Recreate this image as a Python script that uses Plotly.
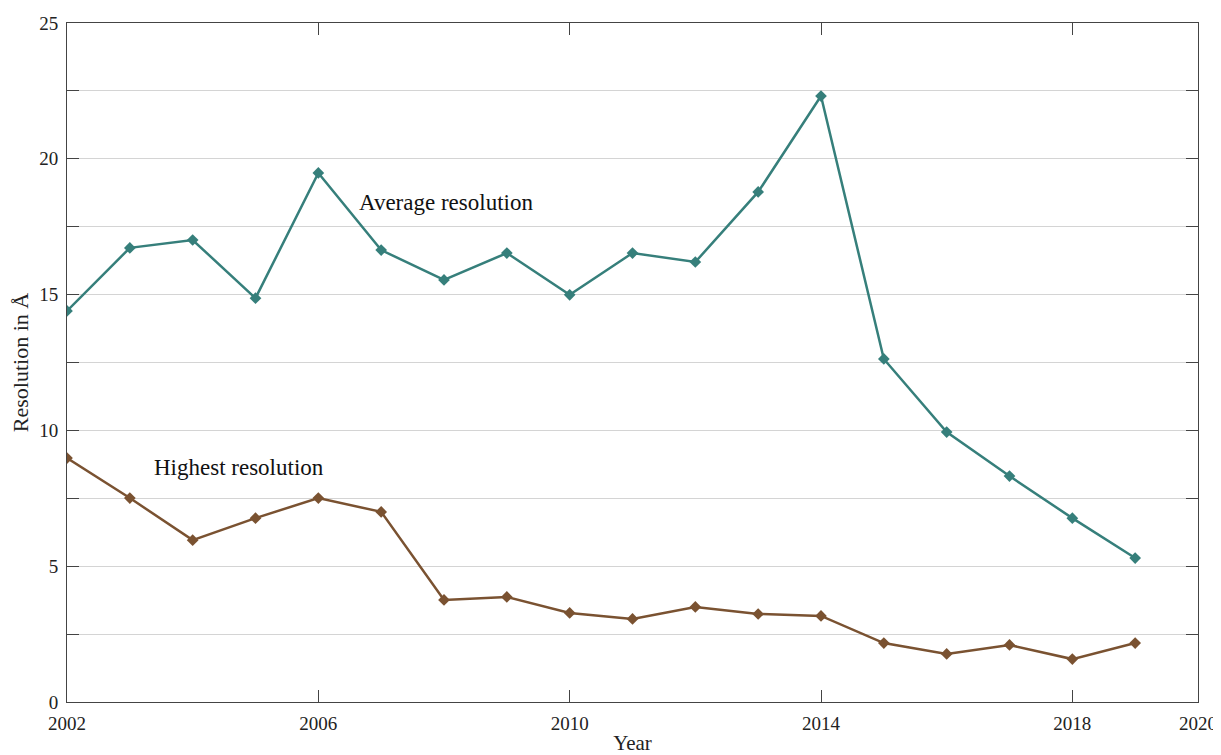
import plotly.graph_objects as go

years = list(range(2002, 2020))
avg_res = [14.4, 16.72, 17.01, 14.87, 19.48, 16.64, 15.54, 16.53, 14.99, 16.53, 16.2, 18.78, 22.31, 12.63, 9.94, 8.32, 6.77, 5.30]
best_res = [8.98, 7.51, 5.96, 6.77, 7.51, 7.0, 3.76, 3.87, 3.28, 3.06, 3.5, 3.24, 3.17, 2.17, 1.77, 2.1, 1.58, 2.17]
x_ticks = [2002, 2006, 2010, 2014, 2018, 2020]
y_ticks = [0, 5, 10, 15, 20, 25]

teal = "#367f7b"
brown = "#7a5231"
font = "Liberation Serif"

fig = go.Figure()
fig.add_trace(go.Scatter(x=years, y=avg_res, mode="lines+markers",
                         line=dict(color=teal, width=2.5),
                         marker=dict(symbol="diamond", size=9, color=teal)))
fig.add_trace(go.Scatter(x=years, y=best_res, mode="lines+markers",
                         line=dict(color=brown, width=2.5),
                         marker=dict(symbol="diamond", size=9, color=brown)))

fig.add_annotation(x=2006.62, y=18.4, text="Average resolution", showarrow=False,
                   xanchor="left", yanchor="middle", font=dict(family=font, size=23, color="#111"))
fig.add_annotation(x=2003.35, y=8.65, text="Highest resolution", showarrow=False,
                   xanchor="left", yanchor="middle", font=dict(family=font, size=23, color="#111"))

fig.update_layout(
    width=1213, height=747,
    margin=dict(l=59, r=23, t=15, b=53, autoexpand=False),
    paper_bgcolor="white", plot_bgcolor="white",
    showlegend=False,
    font=dict(family=font, size=19, color="#222"),
)
fig.update_xaxes(range=[2002, 2020], tickvals=x_ticks, ticktext=[str(v) for v in x_ticks],
                 showgrid=False, zeroline=False, showline=True, linecolor="#444", linewidth=1,
                 mirror="ticks", ticks="inside", ticklen=12, tickcolor="#444",
                 ticklabelstandoff=4, automargin=False,
                 title=dict(text="Year", standoff=2, font=dict(family=font, size=21)))
fig.update_yaxes(range=[0, 25], tickvals=[0, 2.5, 5, 7.5, 10, 12.5, 15, 17.5, 20, 22.5, 25],
                 ticktext=["0", "", "5", "", "10", "", "15", "", "20", "", "25"],
                 showgrid=True, gridcolor="#d4d4d4", gridwidth=1, zeroline=False,
                 showline=True, linecolor="#444", linewidth=1,
                 mirror="ticks", ticks="inside", ticklen=12, tickcolor="#444",
                 ticklabelstandoff=4, automargin=False,
                 title=dict(text="Resolution in Å", standoff=6, font=dict(family=font, size=22)))

fig.write_html("out.html")
